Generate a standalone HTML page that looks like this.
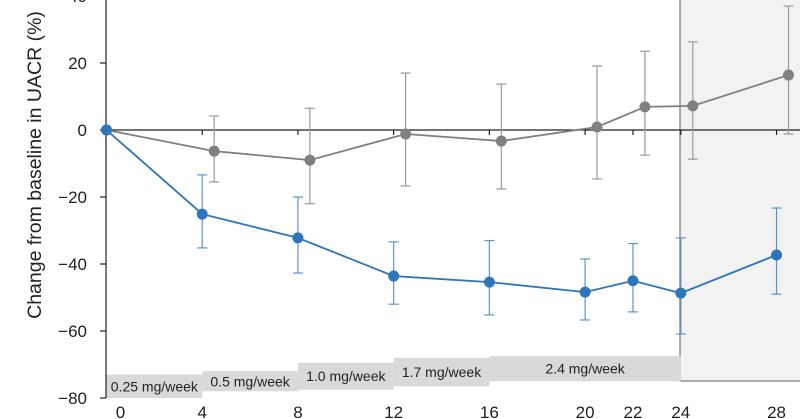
<!DOCTYPE html>
<html><head><meta charset="utf-8"><style>
html,body{margin:0;padding:0;background:#fff;}
svg{display:block;font-family:"Liberation Sans",sans-serif;}
</style></head><body>
<svg id="chart" width="800" height="419">
<rect x="680" y="-2" width="122" height="383" fill="#f2f2f2" stroke="#777" stroke-width="1.2"/>
<g id="doses"></g>
<g id="axes"></g>
<g id="series"></g>
<text transform="translate(41,165) rotate(-90)" text-anchor="middle" font-size="19.5" fill="#222">Change from baseline in UACR (%)</text>
</svg>
<script>
const weeks=[0,4,8,12,16,20,22,24,28];
const blueVals=[0,-25.1,-32.2,-43.6,-45.4,-48.4,-45,-48.7,-37.3];
const blueLo=[0,-35.2,-42.7,-52,-55.2,-56.7,-54.3,-60.9,-49];
const blueHi=[0,-13.4,-20,-33.4,-33,-38.5,-33.9,-32.2,-23.3];
const grayWeeks=[0,4.5,8.5,12.5,16.5,20.5,22.5,24.5,28.5];
const grayVals=[0,-6.3,-9,-1.2,-3.3,0.9,6.9,7.2,16.4];
const grayLo=[null,-15.5,-22,-16.7,-17.6,-14.6,-7.5,-8.7,-1.2];
const grayHi=[null,4.2,6.5,17,13.7,19.1,23.5,26.3,37];
const yTicks=[40,20,0,-20,-40,-60,-80];
const xTicks=[0,4,8,12,16,20,22,24,28];
const doseLabels=["0.25 mg/week","0.5 mg/week","1.0 mg/week","1.7 mg/week","2.4 mg/week"];
const doseStart=[0,4,8,12,16];
const doseEnd=[4,8,12,16,24];
const doseTop=[-73,-72,-69.5,-68,-67.5];
const doseBot=[-80,-78,-77.5,-76.5,-75];
const NS="http://www.w3.org/2000/svg";
const xs=w=>106.5+w*23.93;
const ys=v=>130-v*3.35;
function mk(tag,attrs,parent){const e=document.createElementNS(NS,tag);for(const k in attrs)e.setAttribute(k,attrs[k]);parent.appendChild(e);return e;}
const axes=document.getElementById('axes'),ser=document.getElementById('series'),doses=document.getElementById('doses');
doseLabels.forEach((l,i)=>{
 const r=mk('rect',{x:xs(doseStart[i]),y:ys(doseTop[i]),width:xs(doseEnd[i])-xs(doseStart[i]),height:ys(doseBot[i])-ys(doseTop[i]),fill:'#d9d9d9'},doses);
 
 
 const t=mk('text',{x:(xs(doseStart[i])+xs(doseEnd[i]))/2,y:(ys(doseTop[i])+ys(doseBot[i]))/2+5,'text-anchor':'middle','font-size':14,fill:'#222'},doses);
 t.textContent=l;
 
 
});
mk('line',{x1:106,y1:-5,x2:106,y2:ys(-80),stroke:'#222','stroke-width':1.2},axes);
mk('line',{x1:106,y1:ys(0),x2:800,y2:ys(0),stroke:'#222','stroke-width':1.2},axes);
yTicks.forEach(v=>{
 mk('line',{x1:100,y1:ys(v),x2:106,y2:ys(v),stroke:'#222','stroke-width':1.2},axes);
 const t=mk('text',{x:87,y:ys(v)+6,'text-anchor':'end','font-size':17,fill:'#222'},axes);
 t.textContent=v<0?'\u2212'+(-v):v;
 
 
});
xTicks.forEach(w=>{
 if(w>0)mk('line',{x1:xs(w),y1:ys(0),x2:xs(w),y2:ys(0)+5,stroke:'#222','stroke-width':1.2},axes);
 const t=mk('text',{x:xs(w)+(w==0?14:0),y:418,'text-anchor':'middle','font-size':17,fill:'#222'},axes);
 t.textContent=w;
 
 
});
function drawSeries(wk,vals,lo,hi,col,ecol,name){
 const g=mk('g',{},ser);
 
 
 wk.forEach((w,i)=>{if(lo[i]==null||lo[i]===hi[i])return;const x=xs(w);
  mk('line',{x1:x,y1:ys(lo[i]),x2:x,y2:ys(hi[i]),stroke:ecol,'stroke-width':1.2},g);
  mk('line',{x1:x-5,y1:ys(lo[i]),x2:x+5,y2:ys(lo[i]),stroke:ecol,'stroke-width':1.2},g);
  mk('line',{x1:x-5,y1:ys(hi[i]),x2:x+5,y2:ys(hi[i]),stroke:ecol,'stroke-width':1.2},g);});
 mk('polyline',{points:wk.map((w,i)=>xs(w)+','+ys(vals[i])).join(' '),fill:'none',stroke:col,'stroke-width':1.8},g);
 wk.forEach((w,i)=>{const c=mk('circle',{cx:xs(w),cy:ys(vals[i]),r:5.5,fill:col},g);
  
  });
}
drawSeries(grayWeeks,grayVals,grayLo,grayHi,'#808080','#9a9a9a','placebo-series');
drawSeries(weeks,blueVals,blueLo,blueHi,'#2f75bb','#5a94cf','treatment-series');
</script>
</body></html>
